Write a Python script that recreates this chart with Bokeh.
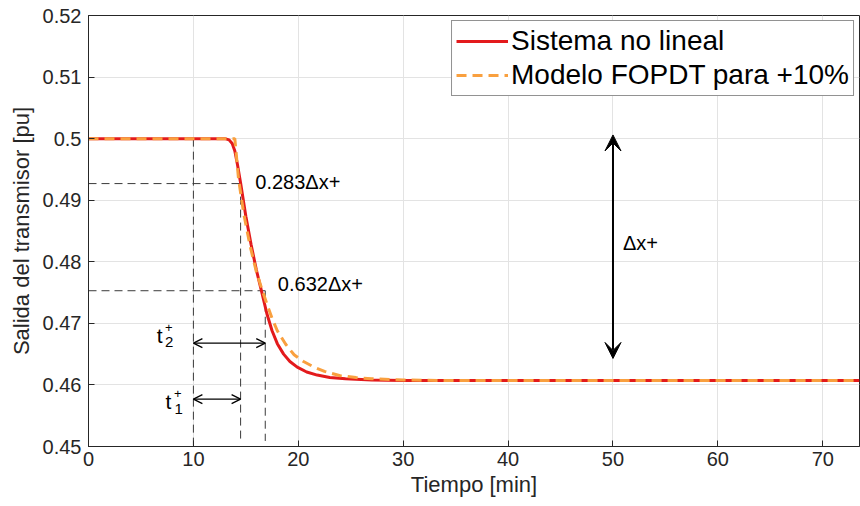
from bokeh.plotting import figure
from bokeh.models import (FixedTicker, Arrow, OpenHead, VeeHead,
                          Legend, LegendItem, Range1d)
from bokeh.core.properties import value
from bokeh.embed import file_html
from bokeh.resources import INLINE

# Step response of the non-linear system (transmitter output, pu)
sys_t = [0, 13.0, 13.4, 13.7, 13.95, 14.2, 14.5, 15.0, 15.5, 16.0, 16.5, 17.0,
         17.5, 18.0, 18.6, 19.2, 19.9, 20.8, 21.8, 23.0, 24.5, 27.0, 30.0, 73.5]
sys_y = [0.5, 0.5, 0.4998, 0.4992, 0.4980, 0.4958, 0.4928, 0.4874, 0.4828, 0.4787,
         0.4752, 0.4716, 0.4688, 0.4667, 0.4650, 0.4638, 0.4629, 0.4621, 0.4616,
         0.4612, 0.4610, 0.4608, 0.4607, 0.4607]

# FOPDT model fitted for the +10% step
fopdt_t = [0, 13.95, 14.3, 14.8, 15.4, 16.0, 16.5, 17.0, 17.5, 18.0, 18.8, 19.6,
           20.5, 21.5, 22.5, 24.0, 25.5, 27.0, 30.0, 35.0, 73.5]
fopdt_y = [0.5, 0.5, 0.4935, 0.4878, 0.4826, 0.4784, 0.4757, 0.4732, 0.4708, 0.4688,
           0.4666, 0.4649, 0.4638, 0.4629, 0.4622, 0.4615, 0.4612, 0.4610, 0.4608,
           0.4607, 0.4607]

# Characteristic points of the two-point method
t_step = 10.0
t1_time = 14.5
t2_time = 16.85
y_initial = 0.5
y_283 = 0.4927
y_632 = 0.4753
y_t2_arrow = 0.4668
y_t1_arrow = 0.4577
dx_time = 50.0
dx_top = 0.5006
dx_bottom = 0.4643

x_ticks = [0, 10, 20, 30, 40, 50, 60, 70]
y_ticks = [0.45, 0.46, 0.47, 0.48, 0.49, 0.5, 0.51, 0.52]
y_tick_labels = ["0.45", "0.46", "0.47", "0.48", "0.49", "0.5", "0.51", "0.52"]

FONT = "Liberation Sans"
AX_COLOR = "#262626"

p = figure(width=860, height=506, output_backend="svg", toolbar_location=None,
           x_range=Range1d(0, 73.5), y_range=Range1d(0.45, 0.52),
           min_border_left=88, min_border_right=1, min_border_top=15,
           min_border_bottom=60)
p.background_fill_color = "white"
p.border_fill_color = "white"
p.outline_line_color = AX_COLOR
p.outline_line_width = 1

for ax in (p.xaxis[0], p.yaxis[0]):
    ax.major_tick_in = 6
    ax.major_tick_out = 0
    ax.minor_tick_in = 0
    ax.minor_tick_out = 0
    ax.axis_line_color = AX_COLOR
    ax.major_tick_line_color = AX_COLOR
    ax.major_label_text_color = AX_COLOR
    ax.major_label_text_font = FONT
    ax.major_label_text_font_size = "20px"
    ax.axis_label_text_font = FONT
    ax.axis_label_text_font_size = "22px"
    ax.axis_label_text_font_style = "normal"
    ax.axis_label_text_color = AX_COLOR

p.xaxis.ticker = FixedTicker(ticks=x_ticks)
p.yaxis.ticker = FixedTicker(ticks=y_ticks)
p.yaxis.major_label_overrides = {t: s for t, s in zip(y_ticks, y_tick_labels)}
p.xaxis.axis_label = "Tiempo [min]"
p.yaxis.axis_label = "Salida del transmisor [pu]"
p.xaxis.major_label_standoff = 5
p.yaxis.major_label_standoff = 7
p.xaxis.axis_label_standoff = 3
p.yaxis.axis_label_standoff = 6

p.xgrid.grid_line_color = "#e3e3e3"
p.ygrid.grid_line_color = "#e3e3e3"
p.xgrid.grid_line_width = 1
p.ygrid.grid_line_width = 1

# Construction lines of the two-point method
DASH = "8 5"
GUIDE = "#3a3a3a"
p.line([0, t1_time], [y_283, y_283], line_color=GUIDE, line_dash=DASH, line_width=1)
p.line([0, t2_time], [y_632, y_632], line_color=GUIDE, line_dash=DASH, line_width=1)
p.line([t_step, t_step], [y_initial, 0.45], line_color=GUIDE, line_dash=DASH, line_width=1)
p.line([t1_time, t1_time], [y_283, 0.4509], line_color=GUIDE, line_dash=DASH, line_width=1)
p.line([t2_time, t2_time], [y_632, 0.4509], line_color=GUIDE, line_dash=DASH, line_width=1)

# Response curves
r_sys = p.line(sys_t, sys_y, line_color="#e31a1c", line_width=3)
r_fop = p.line(fopdt_t, fopdt_y, line_color="#f9a03f", line_width=3, line_dash="10 6")

# Time interval arrows
for y_arr, t_end in ((y_t2_arrow, t2_time), (y_t1_arrow, t1_time)):
    p.add_layout(Arrow(start=OpenHead(size=9, line_width=1.3, line_color="black"),
                       end=OpenHead(size=9, line_width=1.3, line_color="black"),
                       x_start=t_step, y_start=y_arr, x_end=t_end, y_end=y_arr,
                       line_width=1.3, line_color="black"))

# Total change arrow
p.add_layout(Arrow(start=VeeHead(size=16, fill_color="black", line_color="black"),
                   end=VeeHead(size=16, fill_color="black", line_color="black"),
                   x_start=dx_time, y_start=dx_bottom, x_end=dx_time, y_end=dx_top,
                   line_width=2, line_color="black"))

# Annotation labels
TXT = dict(text_font=value(FONT), text_color="black", text_baseline="middle",
           text_align="left")
p.text(x=[15.9], y=[0.4929], text=["0.283\u0394x+"], text_font_size="20px", **TXT)
p.text(x=[18.05], y=[0.4764], text=["0.632\u0394x+"], text_font_size="20px", **TXT)
p.text(x=[50.95], y=[0.4831], text=["\u0394x+"], text_font_size="20px", **TXT)

# t2+ and t1+ symbols (main letter, superscript +, subscript index)
p.text(x=[6.5], y=[0.4680], text=["t"], text_font_size="21px", **TXT)
p.text(x=[7.3], y=[0.4694], text=["+"], text_font_size="13px", **TXT)
p.text(x=[7.3], y=[0.4669], text=["2"], text_font_size="15px", **TXT)
p.text(x=[7.35], y=[0.4573], text=["t"], text_font_size="21px", **TXT)
p.text(x=[8.15], y=[0.4586], text=["+"], text_font_size="13px", **TXT)
p.text(x=[8.2], y=[0.4561], text=["1"], text_font_size="15px", **TXT)

legend = Legend(items=[LegendItem(label="Sistema no lineal", renderers=[r_sys]),
                       LegendItem(label="Modelo FOPDT para +10%", renderers=[r_fop])],
                location="top_right")
legend.label_text_font = FONT
legend.label_text_font_size = "28px"
legend.label_text_color = "black"
legend.glyph_width = 52
legend.glyph_height = 32
legend.label_height = 32
legend.spacing = 2
legend.padding = 4
legend.margin = 5
legend.label_standoff = 3
legend.border_line_color = "#262626"
legend.border_line_width = 1
legend.background_fill_color = "white"
legend.background_fill_alpha = 1
p.add_layout(legend)

open("out.html", "w").write(file_html(p, INLINE))
